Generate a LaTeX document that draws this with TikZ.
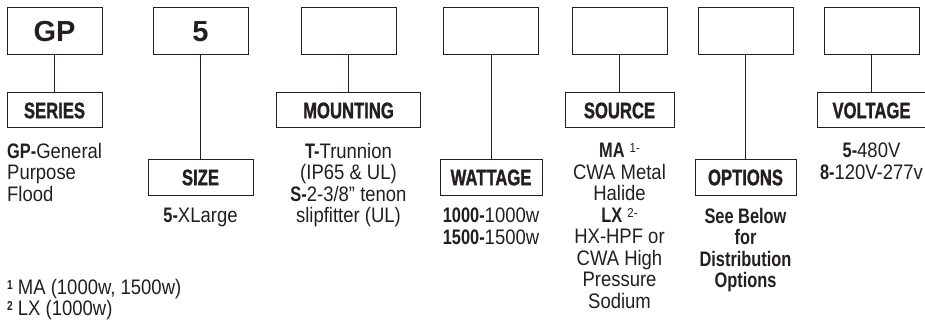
\documentclass[tikz,border=0pt]{standalone}
\usepackage{fontspec}
\setmainfont{Liberation Sans}[FakeStretch=0.88, BoldFeatures={FakeStretch=0.78}]
\newfontfamily\bigfont{Liberation Sans}
\newfontfamily\headfont{Liberation Sans}[FakeStretch=0.74, BoldFeatures={FakeStretch=0.74, FakeBold=1.2}]
\usetikzlibrary{positioning}
\definecolor{ink}{RGB}{35, 31, 32}
\newcommand{\fnmark}[1]{\raisebox{5pt}{\fontsize{13}{13}\selectfont #1}}

\begin{document}
\begin{tikzpicture}[
  x=1pt, y=-1pt,
  every node/.style={text=ink},
  topbox/.style={rectangle, draw=ink, line width=1pt, outer sep=0pt,
                 minimum width=95pt, minimum height=47pt,
                 font=\bigfont\fontsize{29}{29}\selectfont\bfseries},
  tagbox/.style={rectangle, draw=ink, line width=1pt, outer sep=0pt,
                 minimum height=35pt,
                 font=\headfont\fontsize{22.5}{22.5}\selectfont\bfseries},
  desc/.style={inner sep=0pt, align=center,
               font=\fontsize{21}{21.5}\selectfont},
  link/.style={draw=ink, line width=1pt}
]
  \useasboundingbox (0,0) rectangle (925,323);
  \clip (0,0) rectangle (925,323);

  % code boxes
  \node[topbox] (gp) at (54.5,31.5) {GP};
  \node[topbox] (sz) at (200.5,31.5) {5};
  \node[topbox] (mt) at (348.5,31.5) {};
  \node[topbox] (wt) at (491,31.5) {};
  \node[topbox] (sr) at (619.5,31.5) {};
  \node[topbox] (op) at (745.5,31.5) {};
  \node[topbox] (vt) at (871.5,31.5) {};

  % field names
  \node[tagbox, minimum width=95pt, below=38pt of gp] (series) {SERIES};
  \node[tagbox, minimum width=105pt, below=105pt of sz] (size) {SIZE};
  \node[tagbox, minimum width=144pt, below=38pt of mt] (mounting) {MOUNTING};
  \node[tagbox, minimum width=102pt, below=105pt of wt] (wattage) {WATTAGE};
  \node[tagbox, minimum width=109pt, below=38pt of sr] (source) {SOURCE};
  \node[tagbox, minimum width=101pt, below=105pt of op] (options) {OPTIONS};
  \node[tagbox, minimum width=108pt, below=38pt of vt] (voltage) {VOLTAGE};

  \draw[link] (gp) -- (series);
  \draw[link] (sz) -- (size);
  \draw[link] (mt) -- (mounting);
  \draw[link] (wt) -- (wattage);
  \draw[link] (sr) -- (source);
  \draw[link] (op) -- (options);
  \draw[link] (vt) -- (voltage);

  % choices
  \node[desc, align=left, below right=15pt and 0pt of series.south west] (seriesinfo)
    {\textbf{GP-}General\\Purpose\\Flood};
  \node[desc, below=13pt of size] (sizeinfo)
    {\textbf{5-}XLarge};
  \node[desc, below=15pt of mounting] (mountinginfo)
    {\textbf{T-}Trunnion\\(IP65 \& UL)\\\textbf{S-}2-3/8” tenon\\slipfitter (UL)};
  \node[desc, below=13pt of wattage] (wattageinfo)
    {\textbf{1000-}1000w\\\textbf{1500-}1500w};
  \node[desc, below=15pt of source] (sourceinfo)
    {\textbf{MA} \fnmark{1-}\\CWA Metal\\Halide\\
     \textbf{LX} \fnmark{2-}\\HX-HPF or\\CWA High\\Pressure\\Sodium};
  \node[desc, font=\fontsize{21}{21.5}\selectfont\bfseries,
        below=13pt of options] (optionsinfo)
    {See Below\\for\\Distribution\\Options};
  \node[desc, below=15pt of voltage] (voltageinfo)
    {\textbf{5-}480V\\\textbf{8-}120V-277v};

  % footnotes
  \node[desc, align=left, anchor=north west] (notes) at (7,279)
    {\fnmark{\bfseries 1} MA (1000w, 1500w)\\
     \fnmark{\bfseries 2} LX (1000w)};
\end{tikzpicture}
\end{document}
